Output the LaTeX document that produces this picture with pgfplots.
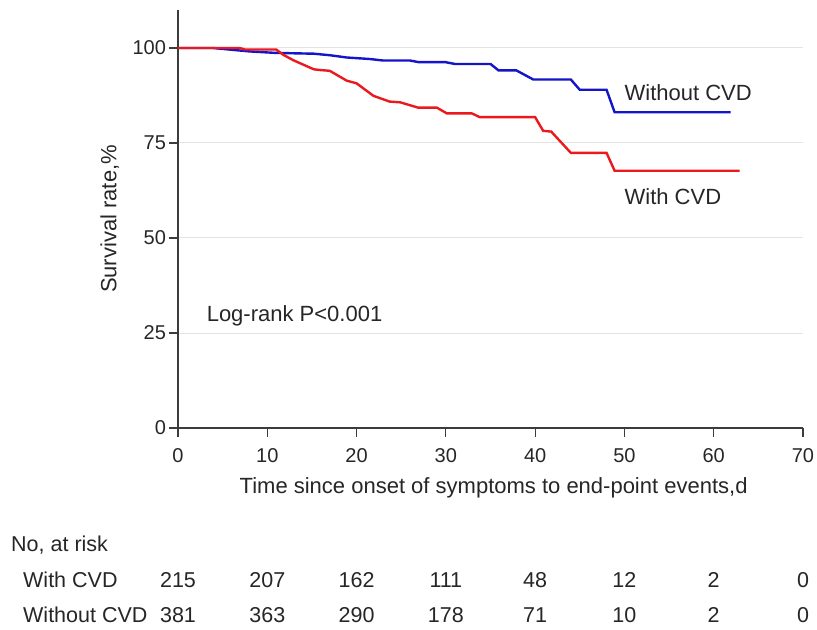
\documentclass[border=0pt]{standalone}
\usepackage{fontspec}
\setmainfont{Liberation Sans}
\usepackage{pgfplots}
\pgfplotsset{compat=1.18}
\definecolor{cblue}{RGB}{20,20,200}
\definecolor{cred}{RGB}{235,25,30}
\definecolor{axc}{RGB}{60,60,60}
\begin{document}
\begin{tikzpicture}
\begin{axis}[
  scale only axis,
  width=625bp, height=418bp,
  xmin=0, xmax=70, ymin=0, ymax=110,
  axis x line*=bottom, axis y line*=left,
  axis line style={-, axc, line width=1.3bp},
  xtick={0,10,...,70}, ytick={0,25,50,75,100},
  tick align=outside,
  major tick length=8.5bp,
  tick style={axc, line width=1.1bp},
  ymajorgrids, grid style={gray!22, line width=1bp},
  /pgf/number format/assume math mode=true,
  ticklabel style={font=\fontsize{20bp}{24bp}\selectfont, text=black!85},
  xticklabel style={yshift=-9bp},
  yticklabel style={xshift=0bp},
  xlabel={Time since onset of symptoms to end-point events,d},
  ylabel={Survival rate,\%},
  label style={font=\fontsize{22bp}{26bp}\selectfont, text=black!85},
  xlabel style={at={(axis description cs:0.505,-0.1562)}, anchor=base},
  ylabel style={at={(axis description cs:-0.109,0.5)}, anchor=center},
  clip=false,
]
\addplot[cblue, line width=2.4bp] coordinates {
(0,100) (3.9,100) (8,99.1) (11,98.7) (15.2,98.5) (17,98.1) (18.9,97.5) (21.5,97.1) (23,96.7) (26,96.7) (26.9,96.3) (29.9,96.3) (31,95.8) (35,95.8) (35.9,94.1) (37.9,94.1) (39.8,91.7) (44,91.7) (45,89) (48,89) (48.9,83.1) (61.9,83.1)
};
\addplot[cred, line width=2.4bp] coordinates {
(0,100) (6.9,100) (7.5,99.6) (11,99.6) (11.8,98.2) (12.9,96.8) (15.2,94.4) (15.9,94.2) (17,94) (17.8,92.9) (18.9,91.4) (20,90.7) (21.9,87.4) (23.7,85.9) (24.9,85.7) (26.9,84.3) (29,84.3) (30.1,82.8) (32.9,82.8) (33.8,81.8) (40,81.8) (40.9,78.2) (41.8,78) (44,72.4) (48,72.4) (48.9,67.7) (62.9,67.7)
};
\begin{scope}[every node/.style={font=\fontsize{22bp}{26bp}\selectfont, text=black!85, inner sep=0pt}]
\node[anchor=base west] at (axis cs:50,86.3) {Without CVD};
\node[anchor=base west] at (axis cs:50,58.9) {With CVD};
\node[anchor=base west] at (axis cs:3.2,28.0) {Log-rank P<0.001};
\end{scope}
\end{axis}
\begin{scope}[every node/.style={font=\fontsize{21.5bp}{25bp}\selectfont, text=black!85, inner sep=0pt}]
\node[anchor=base west] at (-167bp,-123bp) {No, at risk};
\node[anchor=base west] at (-155bp,-159.7bp) {With CVD};
\node[anchor=base west] at (-155bp,-194.7bp) {Without CVD};
\foreach \x/\n in {0/215,10/207,20/162,30/111,40/48,50/12,60/2,70/0}
  \node[anchor=base] at (\x*8.92857bp,-159.7bp) {\n};
\foreach \x/\n in {0/381,10/363,20/290,30/178,40/71,50/10,60/2,70/0}
  \node[anchor=base] at (\x*8.92857bp,-194.7bp) {\n};
\end{scope}
\pgfresetboundingbox
\useasboundingbox (-178bp,-202bp) rectangle (639bp,428bp);
\end{tikzpicture}
\end{document}
